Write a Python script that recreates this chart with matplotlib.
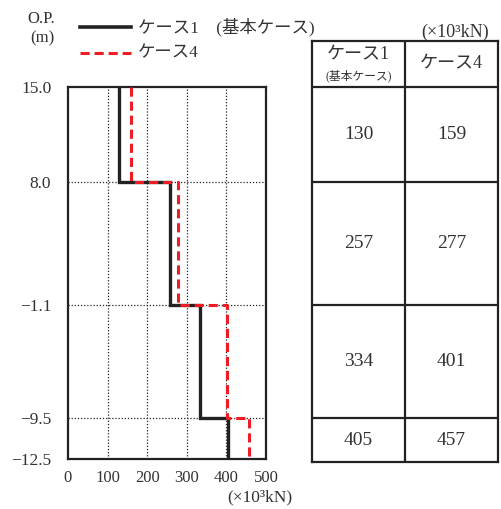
import numpy as np
import matplotlib
matplotlib.use("Agg")
import matplotlib.pyplot as plt

plt.rcParams['font.family'] = ['Liberation Serif', 'Noto Sans CJK JP', 'DejaVu Sans']

# ---- data ----
depths = [15.0, 8.0, -1.1, -9.5, -12.5]
depth_labels = ["15.0", "8.0", "−1.1", "−9.5", "−12.5"]
case1 = [130, 257, 334, 405]
case4 = [159, 277, 401, 457]
series_names = ["ケース1　(基本ケース)", "ケース4"]
xticks = [0, 100, 200, 300, 400, 500]

W, H = 501, 509
fig = plt.figure(figsize=(W / 100, H / 100), dpi=100)

def fx(px):
    return px / W

def fy(py):
    return 1 - py / H

TXT = '#333333'

# main axes
L, R, T, B = 68, 266, 87, 459
ax = fig.add_axes([fx(L), fy(B), fx(R - L), fy(T) - fy(B)])
ax.set_xlim(0, 500)
ax.set_ylim(depths[-1], depths[0])
ax.set_xticks(xticks)
ax.set_xticklabels([str(t) for t in xticks], fontsize=12, color=TXT)
ax.set_yticks(depths)
ax.set_yticklabels(depth_labels, fontsize=12.5, color=TXT)
ax.tick_params(axis='y', length=0, pad=12)
ax.tick_params(axis='x', length=0, pad=8)
for s in ax.spines.values():
    s.set_linewidth(1.6)
    s.set_color('#222222')
for xv in xticks[1:-1]:
    ax.axvline(xv, color='#222222', lw=0.9, ls=(0, (1, 1.5)), zorder=1)
for yv in depths[1:-1]:
    ax.axhline(yv, color='#222222', lw=0.9, ls=(0, (1, 1.5)), zorder=1)

def step(vals):
    xs = np.repeat(vals, 2)
    ys = [depths[0]]
    for d in depths[1:-1]:
        ys += [d, d]
    ys.append(depths[-1])
    return xs, ys

x1, y1 = step(case1)
x4, y4 = step(case4)
ax.plot(x1, y1, color='#222222', lw=2.4, zorder=3, solid_joinstyle='miter')
ax.plot(x4, y4, color='#ee1c25', lw=2.2, ls=(0, (3, 1.6)), zorder=4)

# labels around
fig.text(fx(41), fy(19), "O.P.", fontsize=12, ha='center', va='center', color=TXT)
fig.text(fx(42), fy(38), "(m)", fontsize=12, ha='center', va='center', color=TXT)
fig.text(fx(260), fy(497), "(×10³kN)", fontsize=12.5, ha='center', va='center', color=TXT)

# legend
fig.add_artist(plt.Line2D([fx(80), fx(131)], [fy(27), fy(27)], color='#222222', lw=2.6))
fig.add_artist(plt.Line2D([fx(80), fx(131)], [fy(53), fy(53)], color='#ee1c25', lw=2.2, ls=(0, (3, 1.6))))
fig.text(fx(138), fy(27), series_names[0], fontsize=12.5, ha='left', va='center', color=TXT)
fig.text(fx(138), fy(53), series_names[1], fontsize=12.5, ha='left', va='center', color=TXT)

# table axes
TL, TR, TT, TB = 312, 498, 41, 462
scale = (B - T) / (depths[0] - depths[-1])
ylo = depths[-1] - (TB - B) / scale
yhi = depths[0] + (T - TT) / scale
tax = fig.add_axes([fx(TL), fy(TB), fx(TR - TL), fy(TT) - fy(TB)])
tax.set_xlim(0, 2)
tax.set_ylim(ylo, yhi)
tax.set_xticks([])
tax.set_yticks([])
for s in tax.spines.values():
    s.set_linewidth(1.6)
    s.set_color('#222222')
tax.axvline(1, color='#222222', lw=1.6)
for d in depths[:-1]:
    tax.axhline(d, color='#222222', lw=1.6)
bounds = depths[:-1] + [ylo]
for i in range(len(case1)):
    ym = (bounds[i] + bounds[i + 1]) / 2
    tax.text(0.5, ym, str(case1[i]), ha='center', va='center', fontsize=14, color=TXT)
    tax.text(1.5, ym, str(case4[i]), ha='center', va='center', fontsize=14, color=TXT)
hm = (yhi + depths[0]) / 2
tax.text(0.5, hm + 0.7, "ケース1", ha='center', va='center', fontsize=13, color=TXT)
tax.text(0.5, hm - 0.85, "(基本ケース)", ha='center', va='center', fontsize=8.5, color=TXT)
tax.text(1.5, hm, "ケース4", ha='center', va='center', fontsize=13, color=TXT)
fig.text(fx(455), fy(32), "(×10³kN)", fontsize=13, ha='center', va='center', color=TXT)

fig.savefig("out.png", dpi=100)
